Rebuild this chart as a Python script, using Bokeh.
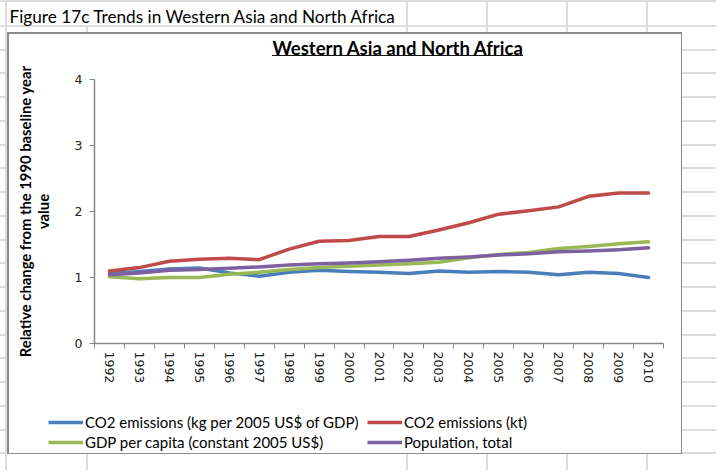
from bokeh.plotting import figure
from bokeh.models import Range1d, FixedTicker, Legend, LegendItem, Label, Column
from bokeh.embed import file_html
from bokeh.resources import INLINE

years = ["1992", "1993", "1994", "1995", "1996", "1997", "1998", "1999", "2000", "2001",
         "2002", "2003", "2004", "2005", "2006", "2007", "2008", "2009", "2010"]
co2_per_gdp = [1.06, 1.09, 1.13, 1.145, 1.07, 1.02, 1.08, 1.11, 1.09, 1.08,
               1.06, 1.10, 1.08, 1.09, 1.08, 1.04, 1.08, 1.06, 1.00]
co2_kt = [1.10, 1.15, 1.245, 1.276, 1.29, 1.27, 1.43, 1.55, 1.56, 1.62,
          1.62, 1.72, 1.83, 1.96, 2.01, 2.07, 2.23, 2.28, 2.28]
gdp_pc = [1.01, 0.98, 1.00, 1.00, 1.05, 1.08, 1.12, 1.15, 1.17, 1.19,
          1.21, 1.23, 1.30, 1.35, 1.38, 1.44, 1.47, 1.51, 1.54]
population = [1.04, 1.07, 1.11, 1.12, 1.14, 1.16, 1.19, 1.21, 1.22, 1.24,
              1.26, 1.29, 1.31, 1.34, 1.36, 1.39, 1.40, 1.42, 1.45]
series = [co2_per_gdp, co2_kt, gdp_pc, population]
series_names = ["CO2 emissions (kg per 2005 US$ of GDP)", "CO2 emissions (kt)",
                "GDP per capita (constant 2005 US$)", "Population, total"]
series_colors = ["#4A7EBB", "#BE4B48", "#98B954", "#7D60A0"]
y_ticks = [0, 1, 2, 3, 4]
sheet_title = "Figure 17c Trends in Western Asia and North Africa"
chart_title = "Western Asia and North Africa"

W, H0, H1, H2 = 716, 64, 336, 70


def bare(fig):
    fig.border_fill_color = None
    fig.background_fill_color = None
    fig.outline_line_color = None
    fig.xgrid.visible = False
    fig.ygrid.visible = False
    try:
        fig.frame_align = False
    except Exception:
        pass


# ---- title band (spreadsheet caption + chart title)
p0 = figure(width=W, height=H0, output_backend="svg", toolbar_location=None,
            x_range=Range1d(0, W), y_range=Range1d(0, H0), min_border=0,
            x_axis_location=None, y_axis_location=None)
bare(p0)
p0.add_layout(Label(x=9, y=H0 - 15.5, text=sheet_title, text_font="Lato",
                    text_font_size="17.2px", text_color="#000000", text_baseline="middle"))
p0.add_layout(Label(x=272, y=H0 - 47.2, text=chart_title, text_font="Lato",
                    text_font_style="bold", text_font_size="18.5px", text_color="#000000",
                    text_baseline="middle"))

# ---- main chart
top_off = H0
p = figure(width=W, height=H1, output_backend="svg", toolbar_location=None,
           x_range=Range1d(0, len(years)), y_range=Range1d(0, 4),
           min_border_left=94, min_border_right=W - 663, min_border_top=79 - top_off,
           min_border_bottom=top_off + H1 - 343)
bare(p)

xs = [i + 0.5 for i in range(len(years))]
for vals, col in zip(series, series_colors):
    p.line(xs, vals, line_color=col, line_width=3.5, line_join="round", line_cap="round")

# x axis: labels at category centres, ticks at category boundaries
xa = p.xaxis[0]
xa.ticker = FixedTicker(ticks=xs, minor_ticks=list(range(len(years) + 1)))
xa.major_label_overrides = {x: y for x, y in zip(xs, years)}
xa.major_tick_out = 0
xa.major_tick_in = 0
xa.minor_tick_out = 5
xa.minor_tick_in = 0
xa.minor_tick_line_color = "#868686"
xa.axis_line_color = "#868686"
xa.axis_line_width = 1.5
xa.major_label_orientation = "vertical"
xa.major_label_text_font = "DejaVu Sans"
xa.major_label_text_font_size = "12.5px"
xa.major_label_text_color = "#222222"
xa.major_label_standoff = 3

ya = p.yaxis[0]
ya.ticker = FixedTicker(ticks=y_ticks, minor_ticks=[])
ya.bounds = (0, 4)
ya.major_tick_out = 5
ya.major_tick_in = 0
ya.minor_tick_out = 0
ya.major_tick_line_color = "#868686"
ya.axis_line_color = "#868686"
ya.axis_line_width = 1.5
ya.major_label_text_font = "DejaVu Sans"
ya.major_label_text_font_size = "12.5px"
ya.major_label_text_color = "#222222"
ya.major_label_standoff = 7
ya.axis_label = "Relative change from the 1990 baseline year\nvalue"
ya.axis_label_text_font = "Lato"
ya.axis_label_text_font_style = "bold"
ya.axis_label_text_font_size = "14.8px"
ya.axis_label_text_line_height = 0.95
ya.axis_label_text_color = "#000000"
ya.axis_label_standoff = 20

# ---- legend strip
p2 = figure(width=W, height=H2, output_backend="svg", toolbar_location=None,
            x_range=Range1d(0, len(years)), y_range=Range1d(0, 4),
            min_border=0, x_axis_location=None, y_axis_location=None)
bare(p2)
leg_renderers = []
for vals, col in zip(series, series_colors):
    leg_renderers.append(p2.line(xs, vals, line_color=col, line_width=3.5, visible=False))
legend = Legend(items=[LegendItem(label=n, renderers=[r]) for n, r in zip(series_names, leg_renderers)],
                orientation="horizontal", ncols=2, location=(48, 18),
                label_text_font="Lato", label_text_font_size="15px", label_text_color="#000000",
                glyph_width=35, glyph_height=20, label_height=20, label_width=282, label_standoff=2,
                spacing=0, padding=0, margin=0, inactive_fill_alpha=0,
                background_fill_alpha=0, border_line_alpha=0)
p2.add_layout(legend, "center")

# ---- CSS backdrop: spreadsheet grid, chart box, title underline
HT = H0 + H1 + H2
grid = "#dcdcdc"
def solid(c):
    return f"linear-gradient({c},{c})"
layers = [
    (solid("#111"), "272px 54.5px", "251px 1.2px"),
    (solid("#fff"), "8.5px 33.5px", "672px 419px"),
    (solid("#8c8c8c"), "7px 32px", "675px 422px"),
    (solid(grid), "5px 0px", f"2px {HT}px"),
    (solid(grid), "86px 25px", f"2px {HT}px"),
]
for gx in [405.5, 485.5, 565.5, 645.5]:
    layers.append((solid(grid), f"{gx}px 0px", f"2px {HT}px"))
layers.append((solid(grid), "0px 0px", f"{W}px 2px"))
layers.append(("repeating-linear-gradient(to bottom, %s 0px, %s 2px, transparent 2px, transparent 23.75px)" % (grid, grid),
               "0px 25px", f"{W}px {HT - 25}px"))
css = {
    "background-color": "#ffffff",
    "background-image": ", ".join(l[0] for l in layers),
    "background-position": ", ".join(l[1] for l in layers),
    "background-size": ", ".join(l[2] for l in layers),
    "background-repeat": "no-repeat",
}
layout = Column(children=[p0, p, p2], spacing=0, styles=css)

open("out.html", "w").write(file_html(layout, INLINE))
